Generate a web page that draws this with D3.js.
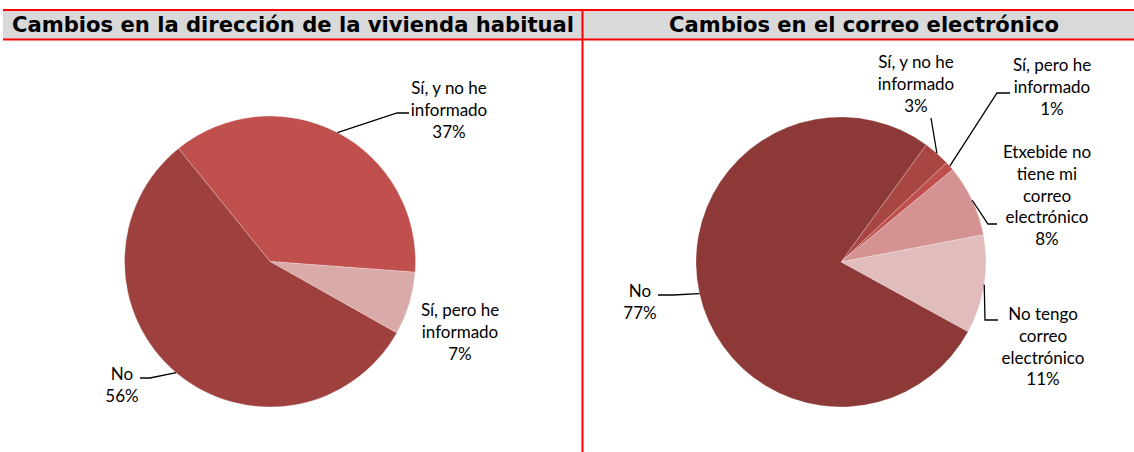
<!DOCTYPE html>
<html><head><meta charset="utf-8">
<script src="https://cdn.jsdelivr.net/npm/d3@7"></script>
<style>body{margin:0;background:#fff}svg{display:block}</style>
</head><body>
<svg id="c" width="1134" height="452"></svg>
<script>
// ---- data ----
const titles = ["Cambios en la dirección de la vivienda habitual", "Cambios en el correo electrónico"];
const dirCategories = ["Sí, y no he informado", "Sí, pero he informado", "No"];
const dirValues = [37, 7, 56];
const mailCategories = ["Sí, y no he informado", "Sí, pero he informado", "Etxebide no tiene mi correo electrónico", "No tengo correo electrónico", "No"];
const mailValues = [3, 1, 8, 11, 77];
const dirLabelLines = [["Sí, y no he", "informado"], ["Sí, pero he", "informado"], ["No"]];
const mailLabelLines = [["Sí, y no he", "informado"], ["Sí, pero he", "informado"], ["Etxebide no", "tiene mi", "correo", "electrónico"], ["No tengo", "correo", "electrónico"], ["No"]];

// ---- style / layout ----
const dirColors = ["#C0504D", "#DAAAA9", "#9E413E"];
const mailColors = ["#A84643", "#C0504D", "#D49392", "#E0BDBC", "#8D3937"];
const svg = d3.select("#c");
const red = "#FF0000";
const lineH = 21.8;

// header
svg.append("rect").attr("x", 3).attr("y", 10).attr("width", 1131).attr("height", 29).attr("fill", "#D9D9D9");
svg.append("line").attr("x1", 3).attr("x2", 1134).attr("y1", 10).attr("y2", 10).attr("stroke", red).attr("stroke-width", 2);
svg.append("line").attr("x1", 3).attr("x2", 1134).attr("y1", 39.5).attr("y2", 39.5).attr("stroke", red).attr("stroke-width", 2);
svg.append("line").attr("x1", 582.5).attr("x2", 582.5).attr("y1", 9).attr("y2", 452).attr("stroke", red).attr("stroke-width", 2);

const titleX = [293, 864];
const titleW = [562, 390];
titles.forEach((t, i) => {
  svg.append("text").attr("x", titleX[i]).attr("y", 31.5).attr("text-anchor", "middle")
    .attr("font-family", "Verdana, 'DejaVu Sans', sans-serif").attr("font-weight", "bold")
    .attr("font-size", 20.5).attr("fill", "#000")
    .attr("textLength", titleW[i]).attr("lengthAdjust", "spacingAndGlyphs").text(t);
});

function drawPie(cfg) {
  const pie = d3.pie().sort(null).value(d => d)
    .startAngle(cfg.start * Math.PI / 180).endAngle((cfg.start + 360) * Math.PI / 180);
  const arcs = pie(cfg.values);
  const arc = d3.arc().innerRadius(0).outerRadius(cfg.r);
  const g = svg.append("g").attr("transform", `translate(${cfg.cx},${cfg.cy})`);
  g.selectAll("path").data(arcs).join("path")
    .attr("d", arc).attr("fill", (d, i) => cfg.colors[i])
    .attr("stroke", "#ffffff").attr("stroke-opacity", 0.35).attr("stroke-width", 0.7);
  arcs.forEach((a, i) => {
    const L = cfg.labels[i];
    const lines = cfg.lines[i].concat([Math.round(cfg.values[i]) + "%"]);
    const t = svg.append("text").attr("text-anchor", "middle")
      .attr("font-family", "Lato, 'Open Sans', sans-serif").attr("font-size", 17).attr("fill", "#000");
    lines.forEach((s, k) => {
      t.append("tspan").attr("x", L.x).attr("y", L.y + k * lineH).text(s);
    });
    if (L.elbow) {
      const m = (a.startAngle + a.endAngle) / 2;
      const p0 = [cfg.cx + cfg.r * Math.sin(m), cfg.cy - cfg.r * Math.cos(m)];
      const pts = [p0, L.elbow, L.end];
      svg.append("path").attr("d", d3.line()(pts)).attr("fill", "none")
        .attr("stroke", "#000").attr("stroke-width", 1.3);
    }
  });
}

drawPie({
  cx: 270, cy: 261.5, r: 145.5, start: -39, values: dirValues, colors: dirColors, lines: dirLabelLines,
  labels: [
    {x: 449, y: 94, elbow: [397, 113], end: [409, 113]},
    {x: 460, y: 316},
    {x: 122, y: 380, elbow: [150, 378], end: [140, 378]}
  ]
});
drawPie({
  cx: 841, cy: 262, r: 145, start: 36, values: mailValues, colors: mailColors, lines: mailLabelLines,
  labels: [
    {x: 916, y: 68, elbow: [931, 118], end: [931, 118]},
    {x: 1052, y: 71, elbow: [997, 93], end: [1010, 93]},
    {x: 1047, y: 158, elbow: [988, 224], end: [997, 224]},
    {x: 1043, y: 320, elbow: [985, 320], end: [998, 320]},
    {x: 640, y: 297, elbow: [673, 295], end: [658, 295]}
  ]
});
</script>
</body></html>
